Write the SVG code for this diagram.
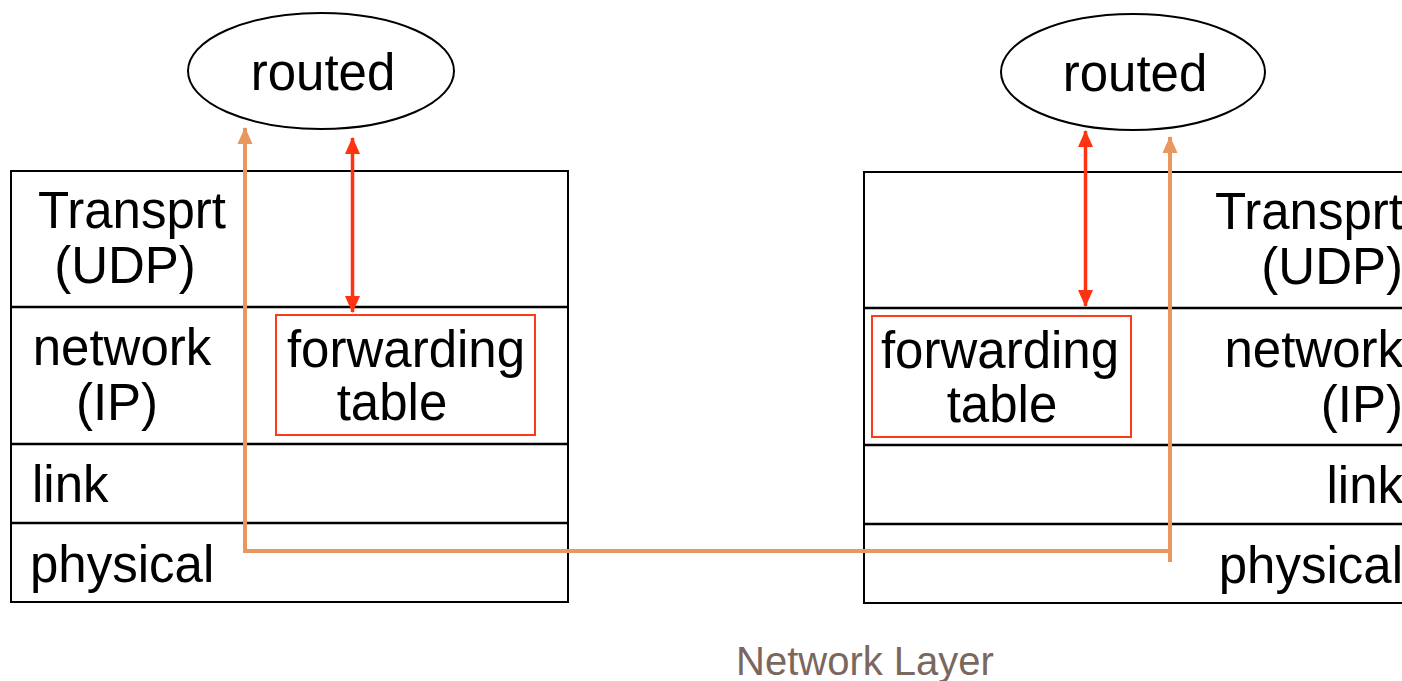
<svg xmlns="http://www.w3.org/2000/svg" width="1402" height="681" viewBox="0 0 1402 681">
<style>
text{font-family:"Liberation Sans","DejaVu Sans",sans-serif;font-size:51px;fill:#000}
.box{fill:#fff;stroke:#000;stroke-width:2}
.div{stroke:#000;stroke-width:2.5}
.ell{fill:#fff;stroke:#000;stroke-width:2}
.ft{fill:none;stroke:#ff3a1a;stroke-width:2}
.red{fill:none;stroke:#ff3311;stroke-width:3.5}
.org{fill:none;stroke:#e8975f;stroke-width:4}
.m{text-anchor:middle}
.e{text-anchor:end}
</style>
<defs>
<marker id="ra" markerUnits="userSpaceOnUse" markerWidth="18" markerHeight="18" viewBox="0 0 18 18" refX="16" refY="9" orient="auto-start-reverse"><path d="M0,1.5 L17,9 L0,16.5 Z" fill="#ff3311"/></marker>
<marker id="oa" markerUnits="userSpaceOnUse" markerWidth="18" markerHeight="18" viewBox="0 0 18 18" refX="16" refY="9" orient="auto-start-reverse"><path d="M0,1.5 L17,9 L0,16.5 Z" fill="#e8975f"/></marker>
</defs>
<rect width="1402" height="681" fill="#fff"/>
<g id="left-stack">
<rect class="box" x="11" y="171" width="557" height="431"/>
<line class="div" x1="11" y1="307" x2="568" y2="307"/>
<line class="div" x1="11" y1="444" x2="568" y2="444"/>
<line class="div" x1="11" y1="523" x2="568" y2="523"/>
<text class="m" x="132" y="228">Transprt</text>
<text class="m" x="125" y="283">(UDP)</text>
<text class="m" x="122" y="365">network</text>
<text class="m" x="117" y="420">(IP)</text>
<text x="32" y="502">link</text>
<text x="30" y="582">physical</text>
</g>
<g id="left-ft">
<rect class="ft" x="276" y="315" width="259" height="120"/>
<text class="m" x="406" y="367">forwarding</text>
<text class="m" x="392" y="420">table</text>
</g>
<g id="right-stack">
<rect class="box" x="864" y="172" width="560" height="431"/>
<line class="div" x1="864" y1="308" x2="1424" y2="308"/>
<line class="div" x1="864" y1="445" x2="1424" y2="445"/>
<line class="div" x1="864" y1="524" x2="1424" y2="524"/>
<text class="e" x="1403" y="229">Transprt</text>
<text class="e" x="1403" y="284">(UDP)</text>
<text class="e" x="1403" y="367">network</text>
<text class="e" x="1403" y="422">(IP)</text>
<text class="e" x="1403" y="503">link</text>
<text class="e" x="1403" y="583">physical</text>
</g>
<g id="right-ft">
<rect class="ft" x="872" y="316" width="259" height="121"/>
<text class="m" x="1000" y="368">forwarding</text>
<text class="m" x="1002" y="422">table</text>
</g>
<g id="left-routed">
<ellipse class="ell" cx="321" cy="71" rx="133" ry="58"/>
<text class="m" x="323" y="90">routed</text>
</g>
<g id="right-routed">
<ellipse class="ell" cx="1133" cy="72" rx="132" ry="58"/>
<text class="m" x="1135" y="91">routed</text>
</g>
<g id="connectors">
<line class="red" x1="352.5" y1="138" x2="352.5" y2="312" marker-start="url(#ra)" marker-end="url(#ra)"/>
<line class="red" x1="1085.5" y1="131" x2="1085.5" y2="306" marker-start="url(#ra)" marker-end="url(#ra)"/>
<path class="org" d="M245,128 V551 H1172" marker-start="url(#oa)"/>
<path class="org" d="M1170,562 V137" marker-end="url(#oa)"/>
</g>
<text x="736" y="675" style="font-size:40px;fill:#7a675e">Network Layer</text>
</svg>
